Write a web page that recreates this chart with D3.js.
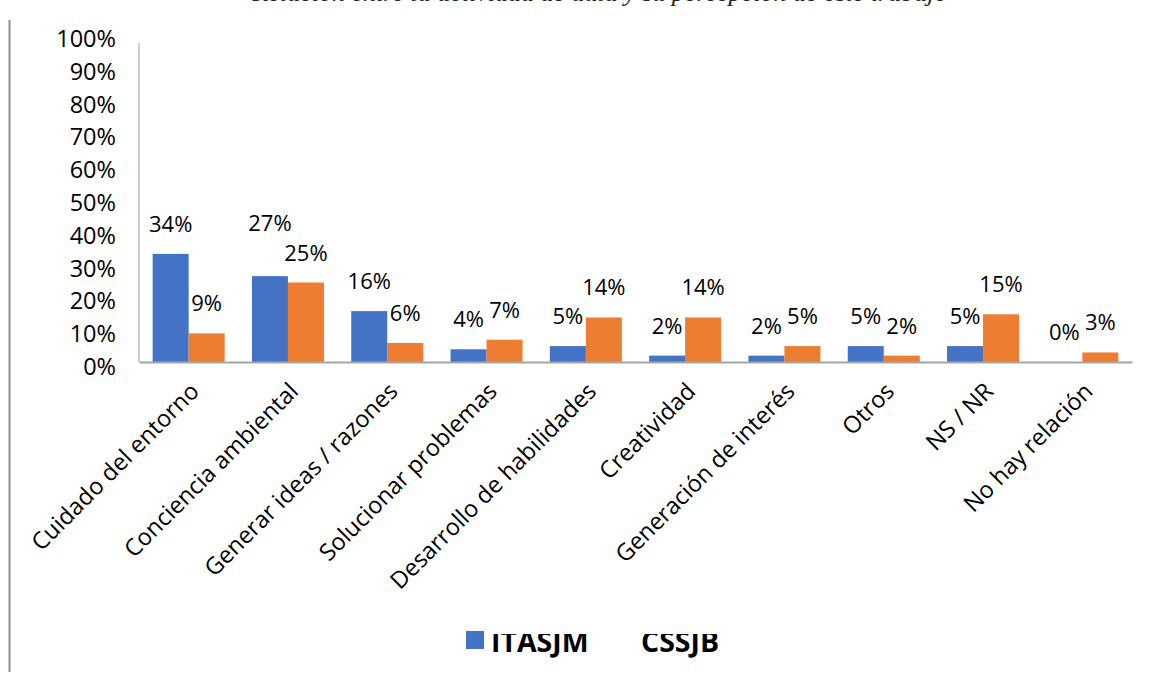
<!DOCTYPE html>
<html>
<head>
<meta charset="utf-8">
<script src="https://cdn.jsdelivr.net/npm/d3@7"></script>
<style>
  html, body { margin: 0; padding: 0; background: #fff; }
  svg { display: block; }
</style>
</head>
<body>
<svg id="chart" width="1149" height="675"></svg>
<script>
// Response categories (x axis)
const categories = [
  "Cuidado del entorno",
  "Conciencia ambiental",
  "Generar ideas / razones",
  "Solucionar problemas",
  "Desarrollo de habilidades",
  "Creatividad",
  "Generación de interés",
  "Otros",
  "NS / NR",
  "No hay relación"
];

// Series names
const seriesNames = ["ITASJM", "CSSJB"];

// Percentages per series
const itasjm = [34, 27, 16, 4, 5, 2, 2, 5, 5, 0];
const cssjb  = [9, 25, 6, 7, 14, 14, 5, 2, 15, 3];

// Y axis tick labels
const yTicks = [0, 10, 20, 30, 40, 50, 60, 70, 80, 90, 100];

const titleText = "Relación entre la actividad de aula y su percepción de este trabajo";

const colors = { ITASJM: "#4472C4", CSSJB: "#ED7D31" };
const font = "'Open Sans', 'Noto Sans', sans-serif";

const svg = d3.select("#chart");
const W = 1149, H = 675;
svg.append("rect").attr("width", W).attr("height", H).attr("fill", "#fff");

const plot = { left: 139, right: 1132, top: 44, bottom: 362 };

const x0 = d3.scaleBand()
  .domain(categories)
  .range([plot.left, plot.right])
  .paddingInner(0.275)
  .paddingOuter(0.1375);

const x1 = d3.scaleBand()
  .domain(seriesNames)
  .range([0, x0.bandwidth()]);

const y = d3.scaleLinear().domain([0, 100]).range([plot.bottom, plot.top]);
// label scale for the left tick column
const yLab = d3.scaleLinear().domain([0, 100]).range([367, 39]);

const rows = categories.map((c, i) => ({
  cat: c,
  values: [
    { key: "ITASJM", v: itasjm[i] },
    { key: "CSSJB", v: cssjb[i] }
  ]
}));

// Outer frame line on the left
svg.append("line")
  .attr("x1", 9.5).attr("x2", 9.5)
  .attr("y1", 20).attr("y2", 672)
  .attr("stroke", "#8c8c8c").attr("stroke-width", 2);

// Title (runs past the top edge of the frame)
svg.append("text")
  .attr("x", 600).attr("y", 1)
  .attr("text-anchor", "middle")
  .attr("font-family", "'Liberation Serif', serif")
  .attr("font-style", "italic")
  .attr("font-size", 26)
  .attr("fill", "#222")
  .text(titleText);

// Vertical axis line
svg.append("line")
  .attr("x1", plot.left).attr("x2", plot.left)
  .attr("y1", plot.top - 1).attr("y2", plot.bottom)
  .attr("stroke", "#bfbfbf").attr("stroke-width", 1.5);

// Y tick labels
const yAxis = d3.axisLeft(yLab)
  .tickValues(yTicks)
  .tickSize(0)
  .tickPadding(0)
  .tickFormat(d => d + "%");
const gy = svg.append("g").attr("transform", "translate(116,0)").call(yAxis);
gy.select(".domain").remove();
gy.selectAll("text")
  .attr("font-family", font)
  .attr("font-size", 23.5)
  .attr("fill", "#000");

// Bars
const groups = svg.append("g").selectAll("g")
  .data(rows).join("g")
  .attr("transform", d => `translate(${x0(d.cat)},0)`);

groups.selectAll("rect")
  .data(d => d.values).join("rect")
  .attr("x", d => x1(d.key))
  .attr("width", x1.bandwidth())
  .attr("y", d => y(d.v))
  .attr("height", d => y(0) - y(d.v))
  .attr("fill", d => colors[d.key]);

// Value labels; a label that would collide with its neighbour is lifted
const labelGap = 22, lineH = 26;
groups.each(function (d) {
  const g = d3.select(this);
  const labels = g.selectAll("text.val")
    .data(d.values).join("text")
    .attr("class", "val")
    .attr("x", v => x1(v.key) + x1.bandwidth() / 2)
    .attr("y", v => y(v.v) - labelGap)
    .attr("text-anchor", "middle")
    .attr("font-family", font)
    .attr("font-size", 22)
    .attr("fill", "#000")
    .text(v => v.v + "%");
  const nodes = labels.nodes();
  const w = nodes.map(n => n.getComputedTextLength());
  const base = d.values.map(v => y(v.v) - labelGap);
  const hOverlap = (w[0] + w[1]) / 2 > x1.step() + 2;
  if (hOverlap && Math.abs(base[0] - base[1]) < lineH) {
    if (base[0] <= base[1]) base[0] = base[1] - lineH - 4;
    else base[1] = base[0] - lineH - 4;
  }
  labels.attr("y", (v, i) => base[i]);
});

// Baseline (category axis)
const xAxis = d3.axisBottom(x0).tickSize(0).tickFormat("");
const gx = svg.append("g").attr("transform", `translate(0,${plot.bottom})`).call(xAxis);
gx.select(".domain").attr("stroke", "#a6a6a6").attr("stroke-width", 2);

// Rotated category labels
svg.append("g").selectAll("text")
  .data(categories).join("text")
  .attr("transform", d => `translate(${x0(d) + x0.bandwidth() / 2 + 6},${plot.bottom + 25}) rotate(-45)`)
  .attr("text-anchor", "end")
  .attr("dy", "0.35em")
  .attr("font-family", font)
  .attr("font-size", 23.5)
  .attr("fill", "#000")
  .text(d => d);

// Legend
const legend = svg.append("g");
legend.append("rect")
  .attr("x", 466).attr("y", 631)
  .attr("width", 18).attr("height", 18)
  .attr("fill", colors.ITASJM);

svg.append("defs").append("clipPath").attr("id", "legclip")
  .append("rect").attr("x", 0).attr("y", 634).attr("width", W).attr("height", 60);

const legText = legend.append("g").attr("clip-path", "url(#legclip)");
legText.append("text")
  .attr("x", 491).attr("y", 652)
  .attr("font-family", font).attr("font-weight", "bold")
  .attr("font-size", 28.5).attr("fill", "#000")
  .text(seriesNames[0]);
legText.append("text")
  .attr("x", 641).attr("y", 652)
  .attr("font-family", font).attr("font-weight", "bold")
  .attr("font-size", 28.5).attr("fill", "#000")
  .text(seriesNames[1]);
</script>
</body>
</html>
